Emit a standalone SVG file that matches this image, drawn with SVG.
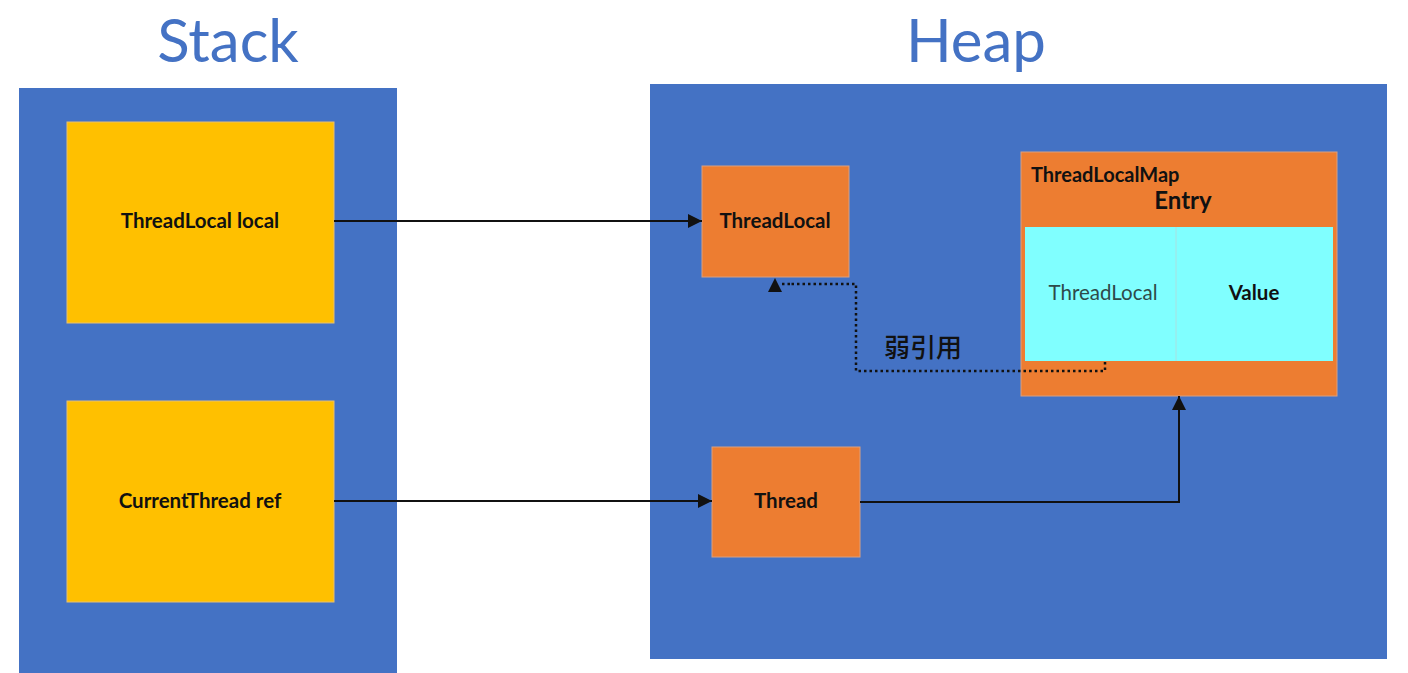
<svg xmlns="http://www.w3.org/2000/svg" width="1408" height="673" viewBox="0 0 1408 673">
<defs>
<style>
.title{font-family:Lato,"Open Sans","Liberation Sans",sans-serif;font-size:60px;fill:#4472C4;text-anchor:middle}
.lbl{font-family:Lato,"Open Sans","Liberation Sans",sans-serif;font-weight:bold;font-size:20.5px;fill:#111;text-anchor:middle}
.blue{fill:#4472C4}
.yel{fill:#FFC000;stroke:#E8C070;stroke-width:1}
.org{fill:#ED7D31;stroke:#D9A080;stroke-width:1}
.cyan{fill:#80FFFF}
.line{fill:none;stroke:#111;stroke-width:2}
.dot{fill:none;stroke:#111;stroke-width:2.5;stroke-dasharray:2.5 3}
</style>
<marker id="ah" viewBox="0 0 10 10" refX="10" refY="5" markerWidth="14" markerHeight="14" markerUnits="userSpaceOnUse" orient="auto">
<path d="M0,0 L10,5 L0,10 z" fill="#111"/>
</marker>
</defs>
<rect width="1408" height="673" fill="#fff"/>
<g id="stack">
<text class="title" x="228" y="62">Stack</text>
<rect class="blue" x="19" y="88" width="378" height="585"/>
</g>
<g id="heap">
<text class="title" x="976" y="62">Heap</text>
<rect class="blue" x="650" y="84" width="737" height="575"/>
</g>
<g id="threadlocal-local">
<rect class="yel" x="67" y="122" width="267" height="201"/>
<text class="lbl" x="200" y="228">ThreadLocal local</text>
</g>
<g id="currentthread-ref">
<rect class="yel" x="67" y="401" width="267" height="201"/>
<text class="lbl" x="200" y="508">CurrentThread ref</text>
</g>
<g id="threadlocal">
<rect class="org" x="702" y="166" width="147" height="111"/>
<text class="lbl" x="775" y="228">ThreadLocal</text>
</g>
<g id="thread">
<rect class="org" x="712" y="447" width="148" height="110"/>
<text class="lbl" x="786" y="508">Thread</text>
</g>
<g id="threadlocalmap">
<rect class="org" x="1021" y="152" width="316" height="244"/>
<text class="lbl" x="1031" y="182" style="text-anchor:start;font-size:20px">ThreadLocalMap</text>
<text class="lbl" x="1183" y="209" style="font-size:24px">Entry</text>
<rect class="cyan" x="1025" y="227" width="308" height="134"/>
<line x1="1176" y1="227" x2="1176" y2="361" stroke="#A8E0E0" stroke-width="1"/>
<text x="1103" y="300" style="font-family:Lato,'Open Sans','Liberation Sans',sans-serif;font-size:20.5px;fill:#2E4A4A;text-anchor:middle">ThreadLocal</text>
<text class="lbl" x="1254" y="300">Value</text>
</g>
<g id="connectors">
<line class="line" x1="334" y1="221" x2="702" y2="221" marker-end="url(#ah)"/>
<line class="line" x1="334" y1="501" x2="712" y2="501" marker-end="url(#ah)"/>
<polyline class="line" points="860,502 1179,502 1179,396" marker-end="url(#ah)"/>
<polyline class="dot" points="1105,362 1105,371 856,371 856,284 790,284"/>
<path d="M768,292 L775,278 L782,292 z" fill="#111"/>
<line class="dot" x1="790" y1="284" x2="782" y2="284"/>
<text x="923" y="357" style="font-family:'Noto Sans CJK SC',sans-serif;font-weight:500;font-size:26px;fill:#111;text-anchor:middle">弱引用</text>
</g>
</svg>
